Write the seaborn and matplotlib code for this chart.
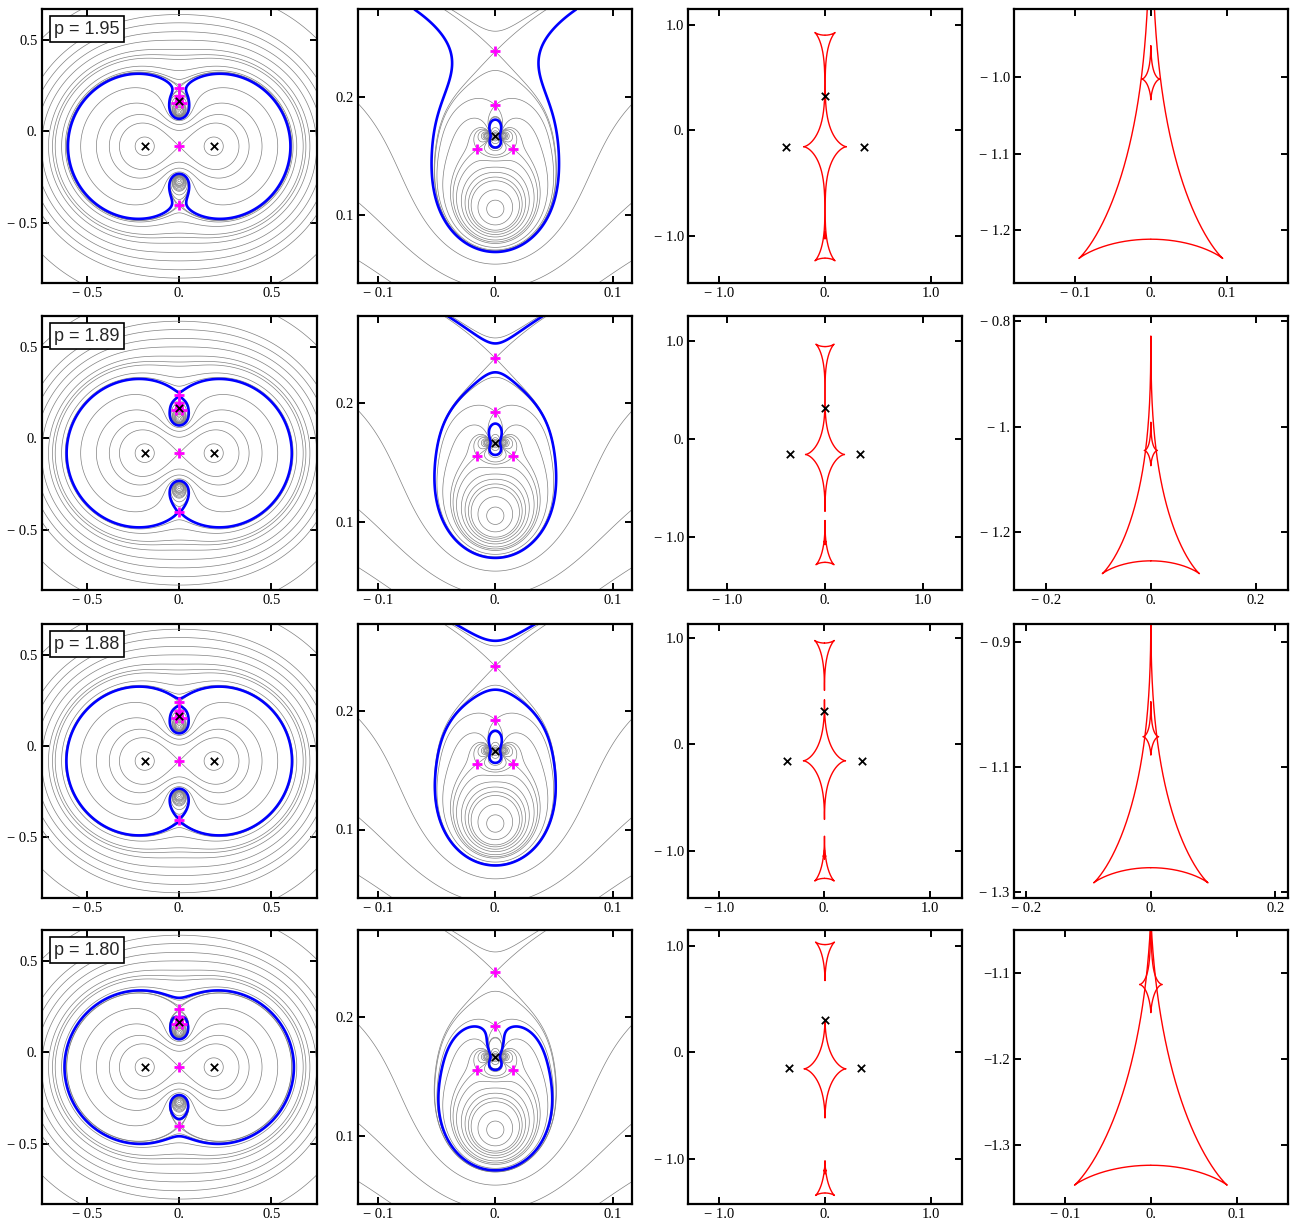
import numpy as np
import matplotlib
matplotlib.use("Agg")
import matplotlib.pyplot as plt
import seaborn as sns

# ---- data -------------------------------------------------------------
p_values = [1.95, 1.89, 1.88, 1.80]
p_labels = ["p = 1.95", "p = 1.89", "p = 1.88", "p = 1.80"]

# two equal masses plus a small third mass
lens_x = [-0.187, 0.187, 0.0]
lens_y = [-0.082, -0.082, 0.1668]
lens_mass = [0.2637, 0.2637, 5.5e-5]

# source-plane scale used for the caustic panels
caus_scale = 1.9

# gray contour levels of |f|; values at the stationary points get added
base_levels = [0.3, 0.6, 0.83, 0.92, 1.03, 1.15, 1.3, 1.48, 1.69,
               2.7, 4.5, 8.0, 100.0]

# plot windows
crit_xlim, crit_ylim = (-0.745, 0.745), (-0.832, 0.668)
zoom_xlim, zoom_ylim = (-0.1165, 0.1165), (0.042, 0.274)
caus_xlim = [(-1.29, 1.29), (-1.40, 1.40), (-1.29, 1.30), (-1.29, 1.29)]
caus_ylim = [(-1.45, 1.146), (-1.539, 1.255), (-1.446, 1.13), (-1.43, 1.15)]
cz_xlim = [(-0.18, 0.18), (-0.26, 0.26), (-0.22, 0.22), (-0.159, 0.159)]
cz_ylim = [(-1.269, -0.912), (-1.31, -0.79), (-1.31, -0.872), (-1.369, -1.0495)]

M = "\u2212 "
crit_ticks = [-0.5, 0.0, 0.5]
crit_ticklabels = [M + "0.5", "0.", "0.5"]
zoom_xticks = [-0.1, 0.0, 0.1]
zoom_xticklabels = [M + "0.1", "0.", "0.1"]
zoom_yticks = [0.1, 0.2]
zoom_yticklabels = ["0.1", "0.2"]
caus_ticks = [-1.0, 0.0, 1.0]
caus_ticklabels = [M + "1.0", "0.", "1.0"]
cz_xticks = [[-0.1, 0.0, 0.1], [-0.2, 0.0, 0.2], [-0.2, 0.0, 0.2], [-0.1, 0.0, 0.1]]
cz_xticklabels = [[M + "0.1", "0.", "0.1"], [M + "0.2", "0.", "0.2"],
                  [M + "0.2", "0.", "0.2"], [M + "0.1", "0.", "0.1"]]
cz_yticks = [[-1.2, -1.1, -1.0], [-1.2, -1.0, -0.8], [-1.3, -1.1, -0.9], [-1.3, -1.2, -1.1]]
cz_yticklabels = [[M + "1.2", M + "1.1", M + "1.0"], [M + "1.2", M + "1.", M + "0.8"],
                  [M + "1.3", M + "1.1", M + "0.9"], ["\u22121.3", "\u22121.2", "\u22121.1"]]

# ---- lens model -------------------------------------------------------
zl = np.array(lens_x) + 1j * np.array(lens_y)
ml = np.array(lens_mass)


def f_field(z):
    return sum(m / (z - c) ** 2 for m, c in zip(ml, zl))


def poly_prod(polys):
    out = np.array([1 + 0j])
    for q in polys:
        out = np.polymul(out, q)
    return out


lin = [np.array([1 + 0j, -c]) for c in zl]
D = poly_prod([lin[j] for j in range(3) for _ in range(2)])
Nm = sum(ml[i] * poly_prod([lin[j] for j in range(3) if j != i for _ in range(2)]) for i in range(3))
Nm = np.concatenate([np.zeros(len(D) - len(Nm)), Nm])
Q = sum(ml[i] * poly_prod([lin[j] for j in range(3) if j != i for _ in range(3)]) for i in range(3))
stat_pts = np.roots(Q)
stat_vals = np.abs(f_field(stat_pts))

levels = np.unique(np.round(np.concatenate([base_levels, stat_vals]), 5))


def critical_tracks(p, n=12000):
    phi = np.linspace(0, 2 * np.pi, n)
    C = Nm[None, :] - p * np.exp(1j * phi)[:, None] * D[None, :]
    C = C / C[:, :1]
    comp = np.zeros((n, 6, 6), complex)
    comp[:, 0, :] = -C[:, 1:]
    comp[:, np.arange(1, 6), np.arange(0, 5)] = 1
    R = np.linalg.eigvals(comp)
    T = np.empty_like(R)
    T[0] = R[0]
    for k in range(1, n):
        d = np.abs(T[k - 1][:, None] - R[k][None, :])
        j = d.argmin(1)
        if len(np.unique(j)) == 6:
            T[k] = R[k][j]
            continue
        perm = -np.ones(6, int)
        taken = np.zeros(6, bool)
        for idx in np.argsort(d, axis=None):
            a, b = divmod(idx, 6)
            if perm[a] < 0 and not taken[b]:
                perm[a] = b
                taken[b] = True
        T[k] = R[k][perm]
    return T


def caustic(z, p):
    return caus_scale * (z - sum(m / np.conj(z - c) for m, c in zip(ml, zl)) / p)


# ---- style ------------------------------------------------------------
sns.set_style("ticks")
plt.rcParams["font.family"] = ["Liberation Serif", "DejaVu Serif"]
plt.rcParams["axes.linewidth"] = 1.6

W, H = 1294, 1226
col_px = [(41.7, 316.7), (358.3, 632.3), (688.3, 961.7), (1014, 1287.7)]
row_px = [(9.3, 283.3), (316, 590.3), (624, 898), (930, 1204.3)]

fig = plt.figure(figsize=(W / 100, H / 100), dpi=100)


def add_ax(r, c):
    l, rr = col_px[c]
    t, b = row_px[r]
    ax = fig.add_axes([l / W, 1 - b / H, (rr - l) / W, (b - t) / H])
    ax.tick_params(direction="in", top=True, right=True, length=5, width=1.4,
                   labelsize=10.5, colors="black", pad=3)
    for s in ax.spines.values():
        s.set_linewidth(1.6)
        s.set_color("black")
    return ax


# grids for the field
g1x = np.linspace(*crit_xlim, 900)
g1y = np.linspace(*crit_ylim, 900)
G1X, G1Y = np.meshgrid(g1x, g1y)
A1 = np.abs(f_field(G1X + 1j * G1Y))
g2x = np.linspace(*zoom_xlim, 800)
g2y = np.linspace(*zoom_ylim, 800)
G2X, G2Y = np.meshgrid(g2x, g2y)
A2 = np.abs(f_field(G2X + 1j * G2Y))

for r, p in enumerate(p_values):
    # image plane panels
    for c, (GX, GY, A, xl, yl) in enumerate([(G1X, G1Y, A1, crit_xlim, crit_ylim),
                                            (G2X, G2Y, A2, zoom_xlim, zoom_ylim)]):
        ax = add_ax(r, c)
        ax.contour(GX, GY, A, levels=levels, colors="#808080", linewidths=0.5)
        ax.contour(GX, GY, A, levels=[p], colors="#0000ff", linewidths=1.9)
        sns.scatterplot(x=stat_pts.real, y=stat_pts.imag, marker="+", s=60,
                        color="#ff00ff", linewidth=2.0, ax=ax, zorder=5)
        sns.scatterplot(x=zl.real, y=zl.imag, marker="x", s=28, color="black",
                        linewidth=1.3, ax=ax, zorder=6)
        ax.set_xlim(xl)
        ax.set_ylim(yl)
        if c == 0:
            ax.set_xticks(crit_ticks, crit_ticklabels)
            ax.set_yticks(crit_ticks, crit_ticklabels)
            ax.text(0.045, 0.958, p_labels[r], transform=ax.transAxes, ha="left", va="top",
                    fontsize=13, family=["Liberation Sans", "DejaVu Sans"], zorder=10,
                    bbox=dict(boxstyle="square,pad=0.25", fc="white", ec="black", lw=1.2))
        else:
            ax.set_xticks(zoom_xticks, zoom_xticklabels)
            ax.set_yticks(zoom_yticks, zoom_yticklabels)
        ax.set_xlabel("")
        ax.set_ylabel("")

    # source plane panels
    T = critical_tracks(p)
    ax3 = add_ax(r, 2)
    ax4 = add_ax(r, 3)
    for k in range(6):
        z = T[:, k]
        w = caustic(z, p)
        jump = np.abs(np.diff(z)) > 0.03
        wx = w.real.copy()
        wy = w.imag.copy()
        idx = np.where(jump)[0] + 1
        wx = np.insert(wx, idx, np.nan)
        wy = np.insert(wy, idx, np.nan)
        for ax in (ax3, ax4):
            ax.plot(wx, wy, color="#ff0000", lw=1.0)
    sns.scatterplot(x=p * zl.real, y=p * zl.imag, marker="x", s=28, color="black",
                    linewidth=1.3, ax=ax3, zorder=6)
    ax3.set_xlim(caus_xlim[r])
    ax3.set_ylim(caus_ylim[r])
    ax3.set_xticks(caus_ticks, caus_ticklabels)
    ax3.set_yticks(caus_ticks, caus_ticklabels)
    ax4.set_xlim(cz_xlim[r])
    ax4.set_ylim(cz_ylim[r])
    ax4.set_xticks(cz_xticks[r], cz_xticklabels[r])
    ax4.set_yticks(cz_yticks[r], cz_yticklabels[r])
    for ax in (ax3, ax4):
        ax.set_xlabel("")
        ax.set_ylabel("")

fig.savefig("out.png", dpi=100)
